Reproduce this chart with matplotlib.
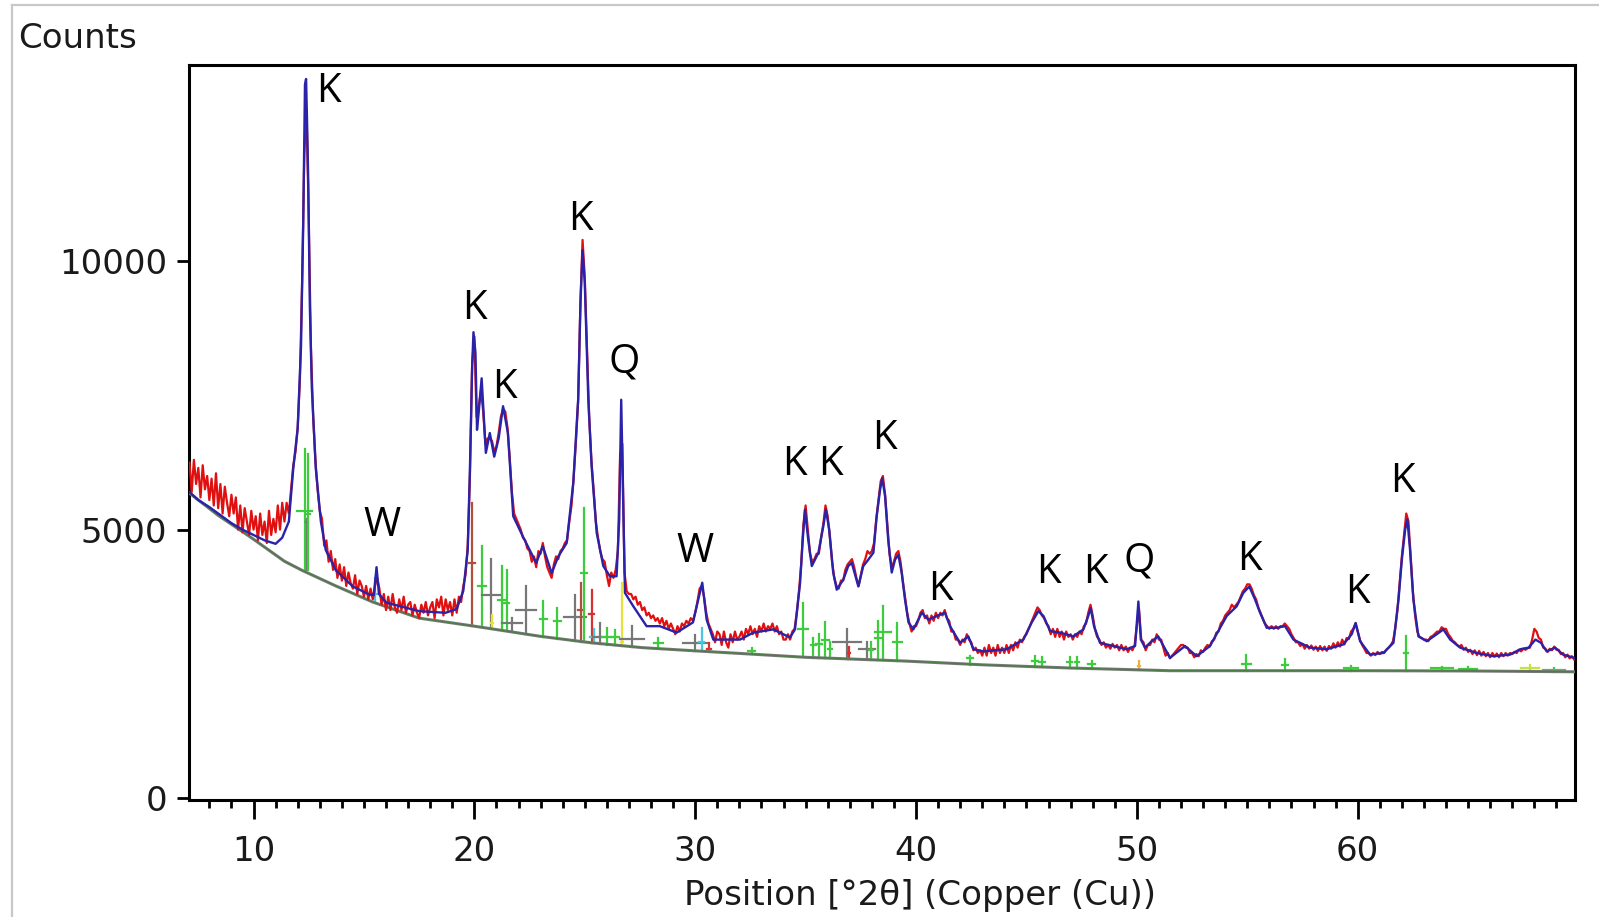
import numpy as np
import matplotlib
matplotlib.use("Agg")
import matplotlib.pyplot as plt
from matplotlib.lines import Line2D

plt.rcParams['font.family'] = ['DejaVu Sans']

# ---------------- data ----------------
# observed scan (red): 0.1 deg step starting at 7.1 deg 2theta
obs_start = 7.1
obs_step = 0.1
obs_counts = [
    6250, 5700, 6300, 5850, 6150, 5600, 6200, 5750, 6000, 5550,   # 7.1-8.0
    5950, 5450, 6050, 5400, 5850, 5300, 5800, 5500, 5250, 5650,   # 8.1-9.0
    5300, 5600, 5000, 5450, 4950, 5400, 5150, 4900, 5350, 5000,   # 9.1-10.0
    5250, 4800, 5300, 4900, 5150, 4750, 5350, 4900, 5200, 4950,   # 10.1-11.0
    5450, 5000, 5500, 5150, 5500, 5300, 5750, 6200, 6450, 6900,   # 11.1-12.0
    7800, 9600, 12000, 12800, 10800, 8400, 7100, 6300, 5750, 5350,  # 12.1-13.0
    5200, 4700, 4800, 4400, 4600, 4250, 4450, 4100, 4350, 4050,   # 13.1-14.0
    4300, 3950, 4200, 4000, 3900, 4150, 3800, 4050, 3950, 3750,   # 14.1-15.0
    3950, 3700, 3900, 3700, 3950, 4100, 3900, 3600, 3800, 3500,   # 15.1-16.0
    3750, 3500, 3800, 3550, 3450, 3700, 3500, 3750, 3450, 3600,   # 16.1-17.0
    3650, 3400, 3600, 3450, 3350, 3600, 3450, 3650, 3400, 3550,   # 17.1-18.0
    3650, 3350, 3700, 3550, 3750, 3400, 3700, 3500, 3650, 3400,   # 18.1-19.0
    3700, 3450, 3750, 3650, 3950, 4150, 4700, 6000, 8100, 8600,   # 19.1-20.0
    7100, 7300, 7600, 7200, 6600, 6700, 6700, 6650, 6450, 6550,   # 20.1-21.0
    6800, 7100, 7250, 7200, 6900, 6350, 5700, 5300, 5200, 5100,   # 21.1-22.0
    5000, 4850, 4800, 4650, 4600, 4400, 4500, 4300, 4600, 4550,   # 22.1-23.0
    4750, 4500, 4300, 4200, 4100, 4350, 4500, 4450, 4600, 4650,   # 23.1-24.0
    4750, 4800, 5150, 5450, 6000, 6650, 7400, 9200, 10400, 9700,  # 24.1-25.0
    8400, 7100, 6300, 5750, 5150, 4850, 4600, 4450, 4400, 4150,   # 25.1-26.0
    3950, 4200, 4100, 4250, 4600, 6400, 6600, 4200, 3850, 3800,   # 26.1-27.0
    3800, 3700, 3750, 3600, 3650, 3500, 3550, 3400, 3450, 3350,   # 27.1-28.0
    3400, 3300, 3350, 3250, 3350, 3200, 3300, 3150, 3250, 3150,   # 28.1-29.0
    3050, 3200, 3100, 3250, 3200, 3300, 3250, 3350, 3300, 3450,   # 29.1-30.0
    3650, 3900, 3950, 3750, 3450, 3250, 3150, 3050, 2900, 3100,   # 30.1-31.0
    3050, 2850, 3100, 2900, 2800, 3050, 2900, 3100, 2950, 3000,   # 31.1-32.0
    3100, 2950, 3150, 3050, 3200, 3050, 3150, 3000, 3200, 3100,   # 32.1-33.0
    3250, 3100, 3200, 3150, 3250, 3100, 3200, 3050, 3100, 2950,   # 33.1-34.0
    2950, 3050, 2950, 3100, 3150, 3450, 3850, 4350, 5100, 5450,   # 34.1-35.0
    5000, 4550, 4400, 4450, 4550, 4550, 4850, 5100, 5450, 5250,   # 35.1-36.0
    4850, 4400, 4100, 3950, 3900, 4050, 4050, 4250, 4350, 4400,   # 36.1-37.0
    4450, 4300, 4100, 3950, 4150, 4350, 4450, 4600, 4550, 4600,   # 37.1-38.0
    4750, 5200, 5550, 5900, 6000, 5650, 5100, 4550, 4300, 4400,   # 38.1-39.0
    4550, 4600, 4400, 4050, 3750, 3450, 3250, 3100, 3200, 3200,   # 39.1-40.0
    3300, 3450, 3500, 3350, 3400, 3250, 3400, 3300, 3450, 3350,   # 40.1-41.0
    3450, 3400, 3500, 3350, 3300, 3100, 3100, 2950, 2950, 2850,   # 41.1-42.0
    2950, 2900, 3050, 2950, 2900, 2750, 2800, 2700, 2750, 2650,   # 42.1-43.0
    2800, 2650, 2850, 2700, 2800, 2650, 2850, 2700, 2800, 2700,   # 43.1-44.0
    2850, 2700, 2850, 2750, 2900, 2800, 2950, 2900, 3000, 3050,   # 44.1-45.0
    3150, 3250, 3350, 3450, 3550, 3500, 3400, 3350, 3250, 3200,   # 45.1-46.0
    3050, 3150, 3000, 3150, 3000, 3100, 2950, 3100, 3000, 3050,   # 46.1-47.0
    2950, 3050, 3000, 3100, 3050, 3200, 3250, 3450, 3600, 3400,   # 47.1-48.0
    3150, 3000, 2950, 2850, 2900, 2800, 2850, 2780, 2870, 2800,   # 48.1-49.0
    2850, 2750, 2850, 2750, 2820, 2720, 2800, 2750, 2850, 3200,   # 49.1-50.0
    3500, 2950, 2900, 2750, 2850, 2850, 2950, 2900, 3050, 2950,   # 50.1-51.0
    2950, 2800, 2650, 2700, 2600, 2650, 2700, 2750, 2800, 2850,   # 51.1-52.0
    2850, 2800, 2800, 2700, 2700, 2620, 2680, 2640, 2750, 2720,   # 52.1-53.0
    2800, 2850, 2820, 2920, 2950, 3080, 3100, 3250, 3300, 3400,   # 53.1-54.0
    3450, 3500, 3600, 3550, 3600, 3650, 3750, 3850, 3900, 3980,   # 54.1-55.0
    3980, 3900, 3780, 3700, 3550, 3450, 3350, 3250, 3200, 3150,   # 55.1-56.0
    3200, 3150, 3200, 3150, 3200, 3200, 3250, 3200, 3150, 3050,   # 56.1-57.0
    2980, 2900, 2900, 2830, 2870, 2780, 2850, 2780, 2840, 2760,   # 57.1-58.0
    2820, 2740, 2830, 2750, 2820, 2740, 2830, 2780, 2880, 2800,   # 58.1-59.0
    2900, 2820, 2950, 2860, 2980, 2960, 3100, 3150, 3250, 3100,   # 59.1-60.0
    2950, 2850, 2780, 2700, 2700, 2650, 2700, 2660, 2720, 2680,   # 60.1-61.0
    2720, 2700, 2760, 2800, 2850, 2920, 3150, 3500, 4000, 4500,   # 61.1-62.0
    4900, 5300, 5150, 4500, 3850, 3400, 3100, 3000, 2980, 2950,   # 62.1-63.0
    2950, 2920, 3000, 3020, 3060, 3100, 3100, 3180, 3150, 3150,   # 63.1-64.0
    3050, 3000, 2930, 2900, 2850, 2820, 2850, 2760, 2800, 2720,   # 64.1-65.0
    2760, 2680, 2750, 2660, 2740, 2650, 2720, 2640, 2700, 2620,   # 65.1-66.0
    2700, 2630, 2690, 2620, 2700, 2640, 2700, 2650, 2700, 2680,   # 66.1-67.0
    2720, 2700, 2760, 2730, 2780, 2760, 2790, 2800, 2950, 3150,   # 67.1-68.0
    3100, 2980, 2950, 2800, 2780, 2720, 2780, 2750, 2820, 2760,   # 68.1-69.0
    2760, 2680, 2700, 2620, 2670, 2600, 2640, 2580,               # 69.1-69.8
]

# calculated profile (blue)
calc_pos = [
    7.1, 7.5, 8.0, 8.4, 9.0, 9.5, 9.9, 10.5, 11.0, 11.3, 11.6, 11.8, 12.0,
    12.15, 12.25, 12.33, 12.38, 12.43, 12.48, 12.55, 12.64, 12.82, 13.05,
    13.27, 13.73, 14.5, 15.24, 15.45, 15.57, 15.68, 16.0, 17.5, 18.7, 19.2,
    19.5, 19.7, 19.8, 19.9, 19.96, 20.05, 20.12, 20.2, 20.33, 20.4, 20.52,
    20.7, 20.9, 21.1, 21.3, 21.52, 21.76, 22.2, 22.8, 23.1, 23.5, 23.8,
    24.18, 24.48, 24.7, 24.81, 24.9, 25.0, 25.16, 25.31, 25.54, 25.84,
    26.14, 26.44, 26.56, 26.65, 26.74, 26.82, 27.2, 27.8, 28.4, 29.16,
    29.9, 30.14, 30.32, 30.52, 30.82, 31.4, 32.03, 32.63, 33.54, 34.29,
    34.52, 34.75, 34.87, 34.97, 35.12, 35.28, 35.58, 35.8, 35.92, 36.07,
    36.25, 36.41, 36.71, 36.93, 37.09, 37.39, 37.61, 37.84, 38.07, 38.22,
    38.37, 38.47, 38.6, 38.74, 38.9, 39.05, 39.2, 39.35, 39.5, 39.66,
    39.88, 40.26, 40.56, 40.94, 41.31, 41.54, 41.99, 42.37, 42.6, 43.05,
    44.1, 44.86, 45.24, 45.54, 45.77, 46.07, 46.52, 47.12, 47.58, 47.8,
    47.91, 48.06, 48.33, 48.93, 49.54, 49.92, 50.07, 50.18, 50.37, 50.67,
    50.97, 51.5, 52.18, 52.71, 53.31, 54.07, 54.52, 54.82, 55.09, 55.35,
    55.58, 55.88, 56.34, 56.71, 57.09, 57.84, 58.6, 59.35, 59.73, 59.91,
    60.11, 60.56, 61.16, 61.62, 61.85, 62.0, 62.15, 62.25, 62.37, 62.52,
    62.75, 63.13, 63.58, 63.88, 64.19, 64.64, 65.4, 66.15, 66.9, 67.36,
    67.74, 68.05, 68.3, 68.56, 68.94, 69.3, 69.8,
]
calc_counts = [
    5700, 5550, 5420, 5300, 5120, 5000, 4920, 4800, 4735, 4850, 5150, 6140, 6890,
    8410, 10680, 13300, 13400, 12500, 11440, 9170, 7650, 6140, 5150,
    4620, 4240, 3940, 3790, 3780, 4300, 3800, 3640, 3480, 3450, 3520,
    3860, 4620, 6140, 8030, 8680, 8300, 6860, 7200, 7820, 7300, 6430,
    6800, 6360, 6700, 7300, 6800, 5250, 4870, 4380, 4690, 4190, 4500,
    4750, 5870, 7420, 9280, 10210, 9600, 7420, 6180, 4940, 4320,
    4130, 4130, 5190, 7420, 5560, 3820, 3570, 3200, 3200, 3080,
    3270, 3700, 4010, 3320, 2950, 2950, 2950, 3080, 3140, 2990,
    3140, 4010, 4810, 5370, 4810, 4320, 4570, 5060, 5370, 5000,
    4200, 3880, 4070, 4320, 4380, 3940, 4320, 4440, 4570, 5250,
    5740, 5960, 5620, 4810, 4200, 4440, 4530, 4200, 3700, 3270,
    3140, 3450, 3320, 3390, 3450, 3200, 2890, 3010, 2770, 2730,
    2770, 2950, 3270, 3480, 3390, 3110, 3080, 3010, 3140, 3390,
    3540, 3200, 2890, 2830, 2770, 2830, 3660, 2950, 2800, 2920,
    3010, 2610, 2830, 2640, 2830, 3390, 3570, 3820, 3940, 3700,
    3450, 3170, 3170, 3200, 2950, 2800, 2770, 2860, 3050, 3260,
    2920, 2670, 2700, 2890, 3700, 4440, 5000, 5190, 4630, 3700,
    3010, 2920, 3050, 3140, 2950, 2800, 2700, 2640, 2670, 2770,
    2800, 2950, 2890, 2730, 2800, 2670, 2610,
]

# fitted background
bg_pos = [7.1, 8.4, 9.9, 11.4, 12.2, 13.7, 15.4, 17.5, 20.0, 23.0, 25.3, 27.6,
          30.0, 32.1, 35.0, 39.5, 43.0, 47.0, 51.5, 56.0, 60.0, 65.0, 69.8]
bg_counts = [5680, 5265, 4850, 4410, 4240, 3955, 3650, 3350, 3200, 3010, 2890, 2800,
             2740, 2690, 2620, 2550, 2480, 2420, 2370, 2370, 2370, 2365, 2350]

# reference-phase line markers: position, base, top, cross-bar level, cross-bar half width, colour
stick_pos = [12.33, 12.42, 12.48, 15.52, 19.90, 20.34, 20.75, 20.80, 21.24, 21.46,
             21.69, 22.32, 23.12, 23.76, 24.56, 24.81, 24.96, 25.31, 25.40, 25.69,
             25.99, 26.37, 26.67, 27.15, 28.33, 29.99, 30.29, 30.62, 32.56, 34.90,
             35.35, 35.60, 35.89, 36.10, 36.89, 36.95, 37.77, 37.95, 38.30, 38.50,
             39.15, 42.45, 45.39, 45.70, 46.96, 47.30, 47.96, 50.10, 54.95, 56.71,
             59.70, 62.20, 63.80, 65.00, 67.80, 68.90]
stick_base = [4240, 4240, 4240, 3650, 3200, 3190, 3170, 3170, 3140, 3120,
              3110, 3060, 3000, 2970, 2930, 2910, 2900, 2890, 2880, 2870,
              2850, 2840, 2830, 2820, 2790, 2740, 2730, 2730, 2680, 2620,
              2610, 2610, 2600, 2600, 2590, 2590, 2580, 2575, 2570, 2565,
              2555, 2480, 2440, 2440, 2420, 2420, 2410, 2380, 2370, 2370,
              2370, 2370, 2370, 2365, 2360, 2355]
stick_top = [6500, 5200, 6400, 4100, 5500, 4690, 4460, 3400, 4320, 4250,
             3360, 3940, 3660, 3540, 3790, 4000, 5400, 3880, 3140, 3250,
             3170, 3130, 4000, 3200, 2980, 3040, 3170, 2880, 2800, 3630,
             2980, 3050, 3270, 2900, 3150, 2820, 2900, 2900, 3290, 3570,
             3260, 2640, 2650, 2620, 2630, 2620, 2560, 2550, 2670, 2580,
             2450, 3010, 2440, 2440, 2470, 2420]
stick_cross = [5350, 5150, 5300, 3800, 4370, 3940, 3790, 3250, 3690, 3640,
               3250, 3500, 3340, 3290, 3380, 3500, 4190, 3420, 3000, 3000,
               3000, 2990, 2900, 2970, 2880, 2890, 2900, 2780, 2740, 3150,
               2850, 2870, 2950, 2780, 2900, 2700, 2780, 2760, 2980, 3090,
               2900, 2600, 2560, 2540, 2540, 2540, 2500, 2450, 2500, 2480,
               2420, 2700, 2420, 2410, 2420, 2380]
stick_halfwidth = [0.34, 0.05, 0.06, 0.10, 0.14, 0.19, 0.42, 0.05, 0.15, 0.10,
                   0.45, 0.45, 0.15, 0.15, 0.50, 0.12, 0.15, 0.12, 0.15, 0.30,
                   0.20, 0.20, 0.05, 0.55, 0.20, 0.55, 0.10, 0.10, 0.15, 0.23,
                   0.12, 0.12, 0.15, 0.10, 0.64, 0.05, 0.36, 0.10, 0.15, 0.35,
                   0.20, 0.15, 0.12, 0.12, 0.12, 0.10, 0.15, 0.05, 0.20, 0.15,
                   0.30, 0.10, 0.50, 0.40, 0.40, 0.50]
G, GR, BR, RD, YL, CY, OR, YG = ('#3ccc3c', '#777777', '#b0503a', '#d83030',
                                 '#e6e23c', '#48c8e0', '#f0b040', '#c8e040')
stick_color = [G, GR, G, CY, BR, G, GR, YL, G, G,
               GR, GR, G, G, GR, BR, G, RD, CY, GR,
               G, G, YL, GR, G, GR, CY, RD, G, G,
               G, G, G, G, GR, RD, GR, G, G, G,
               G, G, G, G, G, G, G, OR, G, G,
               G, G, G, G, YG, G]

# phase labels (K = kaolinite, Q = quartz, W)
label_text = ['K', 'W', 'K', 'K', 'K', 'Q', 'W', 'K', 'K', 'K', 'K', 'K', 'K',
              'Q', 'K', 'K', 'K']
label_pos = [13.39, 15.83, 19.99, 21.38, 24.80, 26.78, 29.97, 34.49, 36.11,
             38.56, 41.10, 45.99, 48.12, 50.10, 55.09, 59.99, 62.02]
label_height = [13160, 5070, 9115, 7650, 10785, 8125, 4595, 6210, 6210,
                6685, 3875, 4195, 4195, 4405, 4445, 3815, 5885]

# ---------------- figure ----------------
fig = plt.figure(figsize=(15.99, 9.17), dpi=100)
ax = fig.add_axes([0.1185, 0.1276, 0.8662, 0.8015])

obs_pos = obs_start + obs_step * np.arange(len(obs_counts))

for xp, b, t, c, hw, col in zip(stick_pos, stick_base, stick_top, stick_cross,
                                stick_halfwidth, stick_color):
    ax.plot([xp, xp], [b, t], color=col, lw=1.6, zorder=2)
    ax.plot([xp - hw, xp + hw], [c, c], color=col, lw=1.6, zorder=2)

ax.plot(bg_pos, bg_counts, color='#7a7a7a', lw=2.2, zorder=3)
ax.plot(bg_pos, bg_counts, color='#4f7a4a', lw=1.0, zorder=3)
ax.plot(obs_pos, obs_counts, color='#e01010', lw=1.6, zorder=4)
ax.plot(calc_pos, calc_counts, color='#2a22a8', lw=1.7, zorder=5)

for s, xp, yp in zip(label_text, label_pos, label_height):
    ax.text(xp, yp, s, fontsize=29, family=['Open Sans', 'DejaVu Sans'],
            ha='center', va='center', color='black', zorder=6)

ax.set_xlim(7.10, 69.82)
ax.set_ylim(-40, 13660)
ax.set_xticks([10, 20, 30, 40, 50, 60])
ax.set_xticks(np.arange(8, 70, 1), minor=True)
ax.set_yticks([0, 5000, 10000])
ax.tick_params(axis='x', which='major', direction='out', length=14, width=2,
               labelsize=24.5, pad=11, labelcolor='#1a1a1a')
ax.tick_params(axis='x', which='minor', direction='out', length=6, width=2)
ax.tick_params(axis='y', which='major', direction='out', length=9, width=2,
               labelsize=24.5, pad=7, labelcolor='#1a1a1a')
for sp in ax.spines.values():
    sp.set_linewidth(2.2)
    sp.set_color('black')

fig.text(0.0115, 1 - 38 / 917, 'Counts', fontsize=24.5, ha='left', va='center',
         color='#1a1a1a')
fig.text(0.5754, 1 - 895 / 917, 'Position [°2θ] (Copper (Cu))', fontsize=24.5,
         ha='center', va='center', color='#1a1a1a')

# light window frame
fig.add_artist(Line2D([12 / 1599, 1.0], [1 - 5 / 917, 1 - 5 / 917],
                      transform=fig.transFigure, color='#c8c8c8', lw=1.6))
fig.add_artist(Line2D([12 / 1599, 12 / 1599], [0.0, 1 - 5 / 917],
                      transform=fig.transFigure, color='#c8c8c8', lw=1.6))

fig.savefig('out.png', dpi=100)
